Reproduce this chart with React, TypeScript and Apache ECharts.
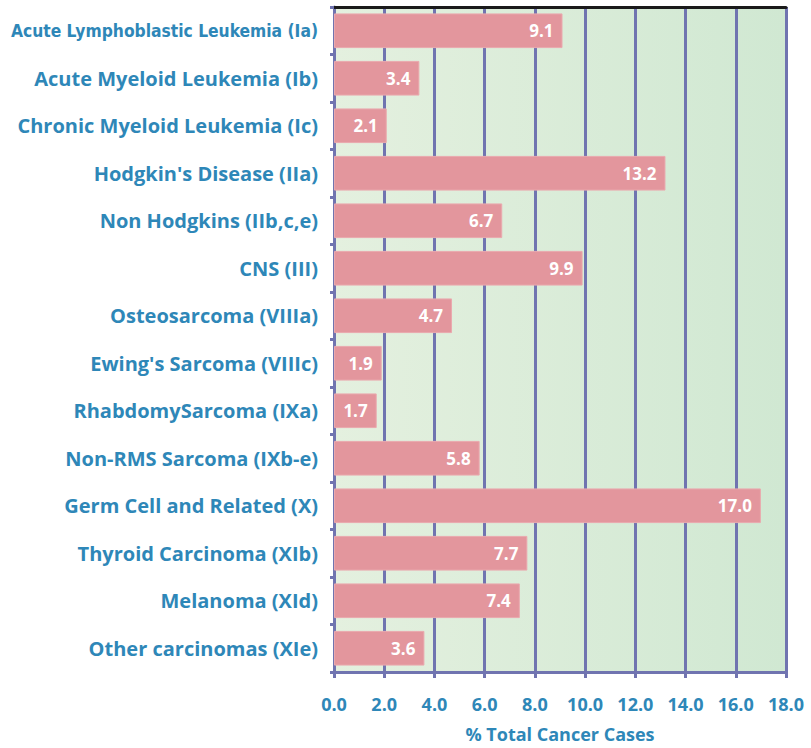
import React, { useEffect, useRef } from "react";
import * as echarts from "echarts";

const categories = [
  "Acute Lymphoblastic Leukemia (Ia)",
  "Acute Myeloid Leukemia (Ib)",
  "Chronic Myeloid Leukemia (Ic)",
  "Hodgkin's Disease (IIa)",
  "Non Hodgkins (IIb,c,e)",
  "CNS (III)",
  "Osteosarcoma (VIIIa)",
  "Ewing's Sarcoma (VIIIc)",
  "RhabdomySarcoma (IXa)",
  "Non-RMS Sarcoma (IXb-e)",
  "Germ Cell and Related (X)",
  "Thyroid Carcinoma (XIb)",
  "Melanoma (XId)",
  "Other carcinomas (XIe)",
];
const values = [9.1, 3.4, 2.1, 13.2, 6.7, 9.9, 4.7, 1.9, 1.7, 5.8, 17.0, 7.7, 7.4, 3.6];
const axisTitle = "% Total Cancer Cases";

const BLUE = "#2e87b8";
const GRID = "#7074b0";
const FONT = "'Open Sans', 'Noto Sans', sans-serif";

export default function App() {
  const ref = useRef<HTMLDivElement>(null);
  useEffect(() => {
    if (!ref.current) return;
    const chart = echarts.init(ref.current, undefined, { renderer: "svg" });
    chart.setOption({
      animation: false,
      grid: {
        left: 334,
        right: 25,
        top: 7,
        bottom: 76,
        outerBoundsMode: "none",
        containLabel: false,
        show: true,
        borderWidth: 0,
        backgroundColor: new echarts.graphic.LinearGradient(0, 0, 1, 0, [
          { offset: 0, color: "#e4f0df" },
          { offset: 1, color: "#d0e8d2" },
        ]),
      },
      xAxis: [
        {
          type: "value",
          min: 0,
          max: 18,
          interval: 2,
          position: "bottom",
          axisLine: { show: true, lineStyle: { color: GRID, width: 3 } },
          axisTick: { show: true, length: 6, lineStyle: { color: GRID, width: 3 } },
          splitLine: { show: true, lineStyle: { color: GRID, width: 3 } },
          axisLabel: {
            color: BLUE,
            fontFamily: FONT,
            fontWeight: "bold",
            fontSize: 18,
            margin: 23,
            formatter: (v: number) => v.toFixed(1),
          },
          name: axisTitle,
          nameLocation: "middle",
          nameGap: 53,
          nameTextStyle: {
            color: BLUE,
            fontFamily: FONT,
            fontWeight: "bold",
            fontSize: 18,
            lineHeight: 18,
          },
        },
        {
          type: "value",
          min: 0,
          max: 18,
          interval: 2,
          position: "top",
          axisLine: { show: true, lineStyle: { color: "#1a1a1a", width: 3 } },
          axisTick: { show: false },
          axisLabel: { show: false },
          splitLine: { show: false },
        },
      ],
      yAxis: {
        type: "category",
        data: categories,
        inverse: true,
        axisLine: { show: true, lineStyle: { color: GRID, width: 3 } },
        axisTick: { show: true, length: 4, lineStyle: { color: GRID, width: 3 } },
        axisLabel: {
          margin: 16,
          color: BLUE,
          fontFamily: FONT,
          fontWeight: "bold",
          fontSize: 20,
          formatter: (v: string, i: number) => (i === 0 ? `{c|${v}}` : v),
          rich: {
            c: {
              color: BLUE,
              fontFamily: "'DejaVu Sans Condensed', " + FONT,
              fontWeight: "bold",
              fontSize: 17.3,
            },
          },
        },
      },
      series: [
        {
          type: "bar",
          data: values,
          xAxisIndex: 0,
          barCategoryGap: "27%",
          itemStyle: { color: "#e3969d", borderColor: "#eaa9ae", borderWidth: 1 },
          label: {
            show: true,
            position: "insideRight",
            distance: 9,
            color: "#ffffff",
            fontFamily: FONT,
            fontWeight: "bold",
            fontSize: 17,
            formatter: (p: any) => Number(p.value).toFixed(1),
          },
        },
      ],
    });
    return () => chart.dispose();
  }, []);
  return <div ref={ref} style={{ width: 811, height: 748, position: "absolute", left: 0, top: 0 }} />;
}
